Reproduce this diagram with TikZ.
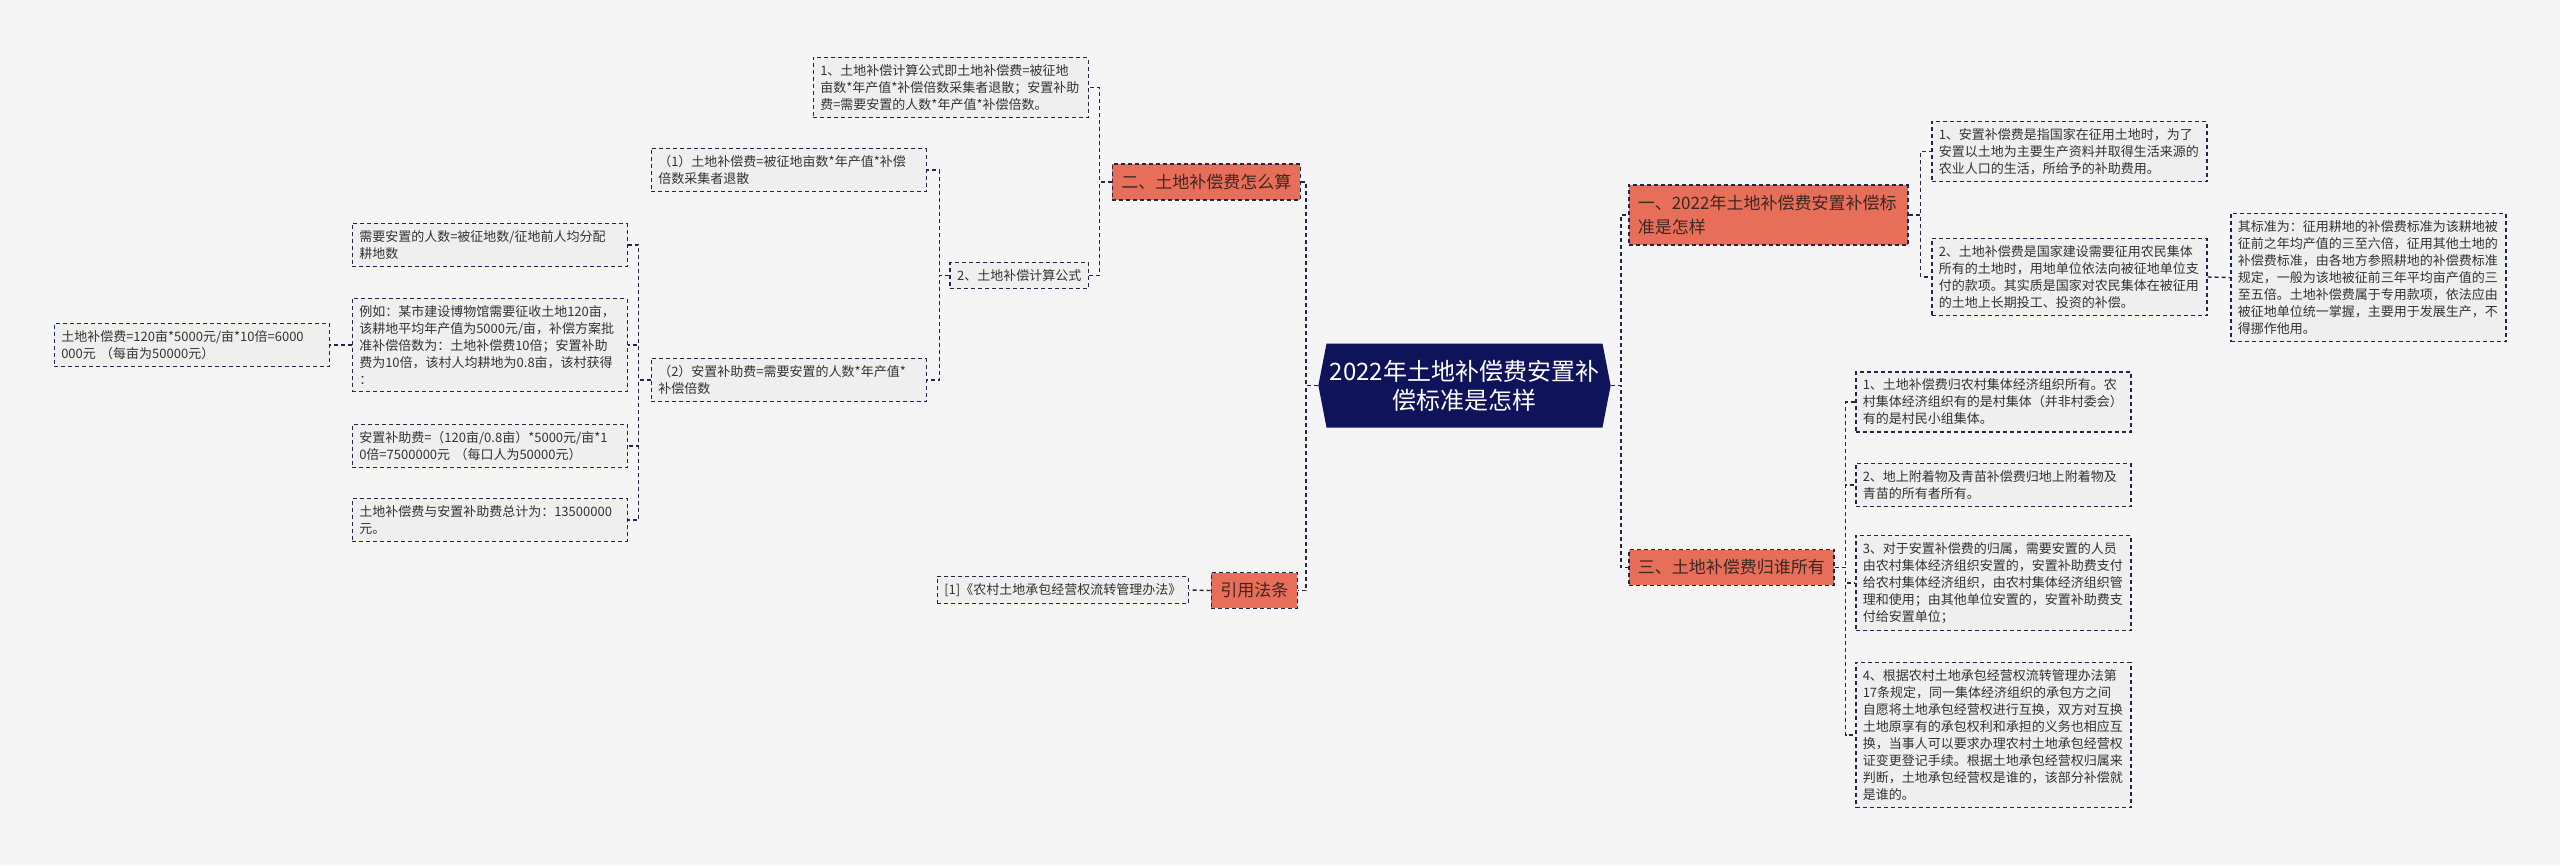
\documentclass[tikz,border=0pt]{standalone}
\usepackage{fontspec}
\setmainfont{Noto Sans CJK SC}
\usepackage{tikz}
\usetikzlibrary{shapes, positioning}
\definecolor{canvas}{HTML}{F5F5F5}
\definecolor{edge}{HTML}{23264A}
\definecolor{leafgray}{HTML}{EFEFEF}
\definecolor{leaftext}{HTML}{333333}
\definecolor{salmon}{HTML}{E76F5A}
\definecolor{topictext}{HTML}{3E2622}
\definecolor{navy}{HTML}{0F1359}
\newcommand{\leaffont}{\fontsize{13pt}{17pt}\selectfont}
\newcommand{\topicfont}{\fontsize{17pt}{24pt}\selectfont}
\newcommand{\rootfont}{\fontsize{24pt}{29pt}\selectfont}
\tikzstyle{note} = [draw=edge, dash pattern=on 4pt off 3pt, line width=1.5pt, fill=leafgray, text=leaftext,
                    font=\leaffont, inner xsep=7pt, inner ysep=7pt]
\tikzstyle{leaf} = [note, text width=261pt, align=left]
\tikzstyle{topic} = [draw=edge, dash pattern=on 4pt off 3pt, line width=1.5pt, fill=salmon, text=topictext,
                     font=\topicfont, inner xsep=9pt, inner ysep=10pt, align=left]
\tikzstyle{root} = [signal, signal to=east and west, signal pointer angle=158, fill=navy, text=white,
                    font=\rootfont, align=center, minimum width=286pt, minimum height=84pt]
\tikzstyle{link} = [draw=edge, dash pattern=on 4pt off 3pt, line width=1.4pt]

\begin{document}
\begin{tikzpicture}[x=1pt, y=-1pt]
				\fill [canvas] (0, 0) rectangle (2560, 865);
				\useasboundingbox (0, 0) rectangle (2560, 865);

				\node (Root) [root] at (1464.5, 385.5) {2022年土地补偿费安置补\\偿标准是怎样};

				% how to calculate
				\node (Calc) [topic, anchor=east] at (1301, 182) {二、土地补偿费怎么算};
				\draw [link] (Root.west) -- ++(-12, 0) |- (Calc.east);

				\node (Formula) [leaf, anchor=east] at (1089, 87.5) {1、土地补偿计算公式即土地补偿费=被征地\\亩数*年产值*补偿倍数采集者退散；安置补助\\费=需要安置的人数*年产值*补偿倍数。};
				\node (FormulaTwo) [note, anchor=east] at (1089, 275.5) {2、土地补偿计算公式};
				\draw [link] (Calc.west) -- ++(-12, 0) |- (Formula.east);
				\draw [link] (Calc.west) -- ++(-12, 0) |- (FormulaTwo.east);

				\node (LandFee) [leaf, anchor=east] at (927, 170) {（1）土地补偿费=被征地亩数*年产值*补偿\\倍数采集者退散};
				\node (Subsidy) [leaf, anchor=east] at (927, 380) {（2）安置补助费=需要安置的人数*年产值*\\补偿倍数};
				\draw [link] (FormulaTwo.west) -- ++(-10, 0) |- (LandFee.east);
				\draw [link] (FormulaTwo.west) -- ++(-10, 0) |- (Subsidy.east);

				\node (People) [leaf, anchor=east] at (628, 245) {需要安置的人数=被征地数/征地前人均分配\\耕地数};
				\node (Example) [leaf, anchor=east] at (628, 345) {例如：某市建设博物馆需要征收土地120亩，\\该耕地平均年产值为5000元/亩，补偿方案批\\准补偿倍数为：土地补偿费10倍；安置补助\\费为10倍，该村人均耕地为0.8亩，该村获得\\：};
				\node (ExampleSubsidy) [leaf, anchor=east] at (628, 446) {安置补助费=（120亩/0.8亩）*5000元/亩*1\\0倍=7500000元\ （每口人为50000元）};
				\node (Total) [leaf, anchor=east] at (628, 520) {土地补偿费与安置补助费总计为：13500000\\元。};
				\draw [link] (Subsidy.west) -- ++(-12, 0) |- (People.east);
				\draw [link] (Subsidy.west) -- ++(-12, 0) |- (Example.east);
				\draw [link] (Subsidy.west) -- ++(-12, 0) |- (ExampleSubsidy.east);
				\draw [link] (Subsidy.west) -- ++(-12, 0) |- (Total.east);

				\node (ExampleLand) [leaf, anchor=east] at (330, 345) {土地补偿费=120亩*5000元/亩*10倍=6000\\000元\ （每亩为50000元）};
				\draw [link] (Example.west) -- ++(-12, 0) |- (ExampleLand.east);

				% cited law
				\node (Law) [topic, anchor=east] at (1298, 590.5) {引用法条};
				\draw [link] (Root.west) -- ++(-12, 0) |- (Law.east);
				\node (LawRef) [note, anchor=east] at (1189, 590) {[1]《农村土地承包经营权流转管理办法》};
				\draw [link] (Law.west) -- (LawRef.east);

				% standard
				\node (Standard) [topic, anchor=west, text width=261pt] at (1628, 215) {一、2022年土地补偿费安置补偿标\\准是怎样};
				\draw [link] (Root.east) -- ++(10, 0) |- (Standard.west);

				\node (Resettle) [leaf, anchor=west] at (1931, 151.5) {1、安置补偿费是指国家在征用土地时，为了\\安置以土地为主要生产资料并取得生活来源的\\农业人口的生活，所给予的补助费用。};
				\node (Compensate) [leaf, anchor=west] at (1931, 277) {2、土地补偿费是国家建设需要征用农民集体\\所有的土地时，用地单位依法向被征地单位支\\付的款项。其实质是国家对农民集体在被征用\\的土地上长期投工、投资的补偿。};
				\draw [link] (Standard.east) -- ++(12, 0) |- (Resettle.west);
				\draw [link] (Standard.east) -- ++(12, 0) |- (Compensate.west);

				\node (Rate) [leaf, anchor=west] at (2230, 277.5) {其标准为：征用耕地的补偿费标准为该耕地被\\征前之年均产值的三至六倍，征用其他土地的\\补偿费标准，由各地方参照耕地的补偿费标准\\规定，一般为该地被征前三年平均亩产值的三\\至五倍。土地补偿费属于专用款项，依法应由\\被征地单位统一掌握，主要用于发展生产，不\\得挪作他用。};
				\draw [link] (Compensate.east) -- (Rate.west);

				% ownership
				\node (Owner) [topic, anchor=west] at (1628, 567.5) {三、土地补偿费归谁所有};
				\draw [link] (Root.east) -- ++(10, 0) |- (Owner.west);

				\node (OwnerOne) [leaf, anchor=west] at (1855, 402) {1、土地补偿费归农村集体经济组织所有。农\\村集体经济组织有的是村集体（并非村委会）\\有的是村民小组集体。};
				\node (OwnerTwo) [leaf, anchor=west] at (1855, 485) {2、地上附着物及青苗补偿费归地上附着物及\\青苗的所有者所有。};
				\node (OwnerThree) [leaf, anchor=west] at (1855, 583) {3、对于安置补偿费的归属，需要安置的人员\\由农村集体经济组织安置的，安置补助费支付\\给农村集体经济组织，由农村集体经济组织管\\理和使用；由其他单位安置的，安置补助费支\\付给安置单位；};
				\node (OwnerFour) [leaf, anchor=west] at (1855, 735) {4、根据农村土地承包经营权流转管理办法第\\17条规定，同一集体经济组织的承包方之间\\自愿将土地承包经营权进行互换，双方对互换\\土地原享有的承包权利和承担的义务也相应互\\换，当事人可以要求办理农村土地承包经营权\\证变更登记手续。根据土地承包经营权归属来\\判断，土地承包经营权是谁的，该部分补偿就\\是谁的。};
				\draw [link] (Owner.east) -- ++(11, 0) |- (OwnerOne.west);
				\draw [link] (Owner.east) -- ++(11, 0) |- (OwnerTwo.west);
				\draw [link] (Owner.east) -- ++(11, 0) |- (OwnerThree.west);
				\draw [link] (Owner.east) -- ++(11, 0) |- (OwnerFour.west);
			\end{tikzpicture}
\end{document}
